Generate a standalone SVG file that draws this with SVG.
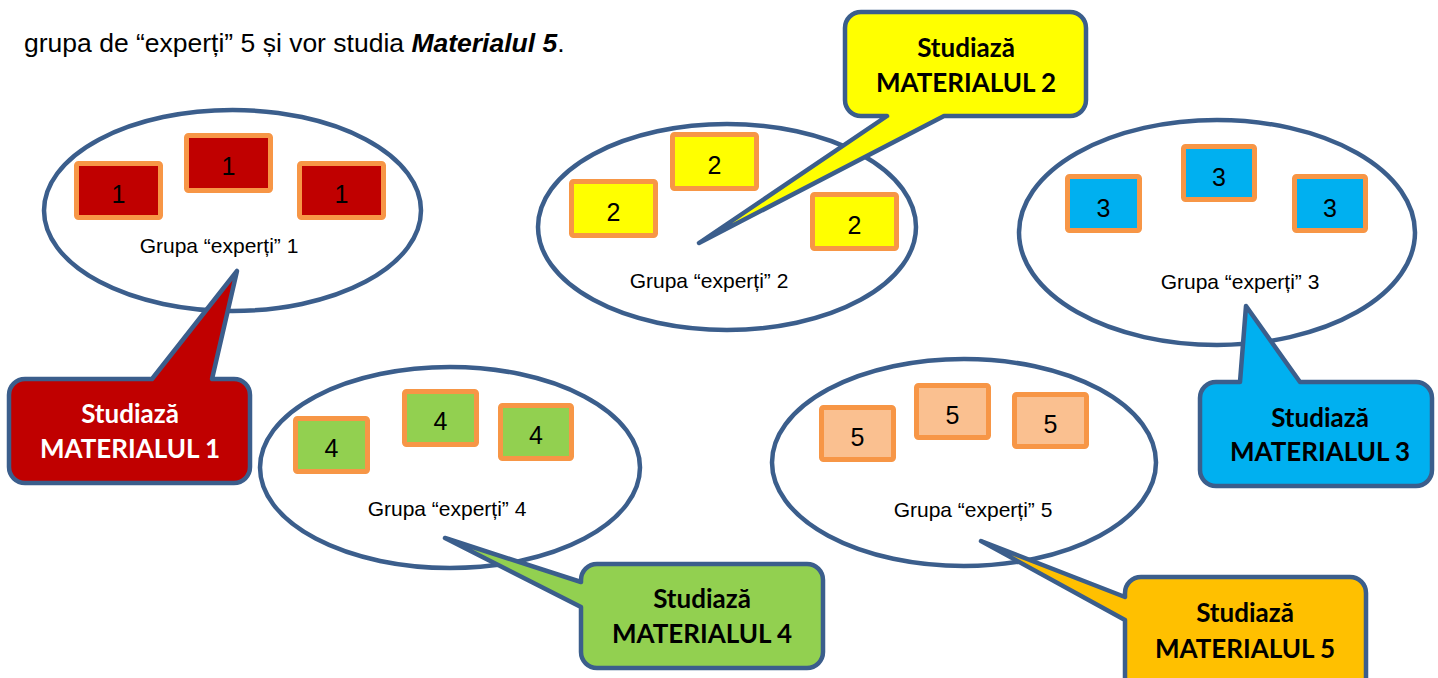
<svg xmlns="http://www.w3.org/2000/svg" width="1438" height="678" viewBox="0 0 1438 678">
<style>
.bg{fill:#ffffff}
.ell{fill:#ffffff;stroke:#3B5E8C;stroke-width:4.5}
.card{stroke:#F79646;stroke-width:5}
.num{font-family:"Liberation Sans",Arial,sans-serif;font-size:25px;fill:#000;text-anchor:middle}
.lbl{font-family:"Liberation Sans",Arial,sans-serif;font-size:21px;fill:#000;text-anchor:middle}
.call{stroke:#3B5E8C;stroke-width:4.5;stroke-linejoin:round}
.ct{font-family:Lato,"Open Sans",sans-serif;font-weight:bold;font-size:26px;text-anchor:middle}
.top{font-family:"Liberation Sans",Arial,sans-serif;font-size:26.5px;fill:#000}
</style>
<rect class="bg" x="0" y="0" width="1438" height="678"/>
<text class="top" x="24" y="52">grupa de “experți” 5 și vor studia <tspan font-weight="bold" font-style="italic">Materialul 5</tspan>.</text>

<g id="group1">
<ellipse class="ell" cx="232.5" cy="210.5" rx="188.5" ry="100.5"/>
<rect class="card" x="76.5" y="163.5" width="84" height="54" rx="2" fill="#C00000"/>
<rect class="card" x="186.5" y="135.5" width="84" height="55" rx="2" fill="#C00000"/>
<rect class="card" x="299.5" y="163.5" width="84" height="54" rx="2" fill="#C00000"/>
<text class="num" x="118.5" y="203">1</text>
<text class="num" x="228.5" y="175">1</text>
<text class="num" x="341.5" y="203">1</text>
<text class="lbl" x="219" y="253">Grupa “experți” 1</text>
</g>

<g id="group2">
<ellipse class="ell" cx="727" cy="227" rx="189" ry="103"/>
<rect class="card" x="571.5" y="181.5" width="84" height="54" rx="2" fill="#FFFF00"/>
<rect class="card" x="672.5" y="134.5" width="84" height="54" rx="2" fill="#FFFF00"/>
<rect class="card" x="812.5" y="194.5" width="84" height="54" rx="2" fill="#FFFF00"/>
<text class="num" x="613.5" y="221">2</text>
<text class="num" x="714.5" y="174">2</text>
<text class="num" x="854.5" y="234">2</text>
<text class="lbl" x="709" y="288">Grupa “experți” 2</text>
</g>

<g id="group3">
<ellipse class="ell" cx="1217" cy="232.5" rx="198" ry="112.5"/>
<rect class="card" x="1067.5" y="176.5" width="72" height="54" rx="2" fill="#00B0F0"/>
<rect class="card" x="1183.5" y="146.5" width="71" height="53" rx="2" fill="#00B0F0"/>
<rect class="card" x="1294.5" y="176.5" width="71" height="54" rx="2" fill="#00B0F0"/>
<text class="num" x="1103.5" y="217">3</text>
<text class="num" x="1219" y="186">3</text>
<text class="num" x="1330" y="217">3</text>
<text class="lbl" x="1240" y="289">Grupa “experți” 3</text>
</g>

<g id="group4">
<ellipse class="ell" cx="450" cy="467.5" rx="190" ry="100.5"/>
<rect class="card" x="295.5" y="418.5" width="72" height="53" rx="2" fill="#92D050"/>
<rect class="card" x="404.5" y="391.5" width="72" height="53" rx="2" fill="#92D050"/>
<rect class="card" x="500.5" y="405.5" width="71" height="53" rx="2" fill="#92D050"/>
<text class="num" x="331.5" y="457">4</text>
<text class="num" x="440.5" y="430">4</text>
<text class="num" x="536" y="444">4</text>
<text class="lbl" x="447" y="516">Grupa “experți” 4</text>
</g>

<g id="group5">
<ellipse class="ell" cx="964" cy="462.5" rx="192" ry="103.5"/>
<rect class="card" x="821.5" y="407.5" width="72" height="52" rx="2" fill="#FAC090"/>
<rect class="card" x="916.5" y="385.5" width="72" height="52" rx="2" fill="#FAC090"/>
<rect class="card" x="1014.5" y="394.5" width="72" height="52" rx="2" fill="#FAC090"/>
<text class="num" x="857.5" y="446">5</text>
<text class="num" x="952.5" y="424">5</text>
<text class="num" x="1050.5" y="433">5</text>
<text class="lbl" x="973" y="517">Grupa “experți” 5</text>
</g>

<g id="callout1">
<path class="call" fill="#C00000" d="M25,379 H152 L237,271 L212,379 H234 A16,16 0 0 1 250,395 V467 A16,16 0 0 1 234,483 H25 A16,16 0 0 1 9,467 V395 A16,16 0 0 1 25,379 Z"/>
<text class="ct" fill="#ffffff" x="130" y="423">Studiază</text>
<text class="ct" fill="#ffffff" x="130" y="458">MATERIALUL 1</text>
</g>

<g id="callout2">
<path class="call" fill="#FFFF00" d="M861,12 H1070 A16,16 0 0 1 1086,28 V100 A16,16 0 0 1 1070,116 H944 L699,243 L887,116 H861 A16,16 0 0 1 845,100 V28 A16,16 0 0 1 861,12 Z"/>
<text class="ct" fill="#000000" x="966" y="57">Studiază</text>
<text class="ct" fill="#000000" x="966" y="92">MATERIALUL 2</text>
</g>

<g id="callout3">
<path class="call" fill="#00B0F0" d="M1216,382 H1240 L1246,306 L1300,382 H1416 A16,16 0 0 1 1432,398 V470 A16,16 0 0 1 1416,486 H1216 A16,16 0 0 1 1200,470 V398 A16,16 0 0 1 1216,382 Z"/>
<text class="ct" fill="#000000" x="1320" y="427">Studiază</text>
<text class="ct" fill="#000000" x="1320" y="461">MATERIALUL 3</text>
</g>

<g id="callout4">
<path class="call" fill="#92D050" d="M597,564 H807 A16,16 0 0 1 823,580 V652 A16,16 0 0 1 807,668 H597 A16,16 0 0 1 581,652 V607 L445,538 L581,582 V580 A16,16 0 0 1 597,564 Z"/>
<text class="ct" fill="#000000" x="702" y="608">Studiază</text>
<text class="ct" fill="#000000" x="702" y="643">MATERIALUL 4</text>
</g>

<g id="callout5">
<path class="call" fill="#FFC000" d="M1141,577 H1350 A16,16 0 0 1 1366,593 V700 H1125 V620 L981,541 L1125,597 V593 A16,16 0 0 1 1141,577 Z"/>
<text class="ct" fill="#000000" x="1245" y="622">Studiază</text>
<text class="ct" fill="#000000" x="1245" y="658">MATERIALUL 5</text>
</g>
</svg>
